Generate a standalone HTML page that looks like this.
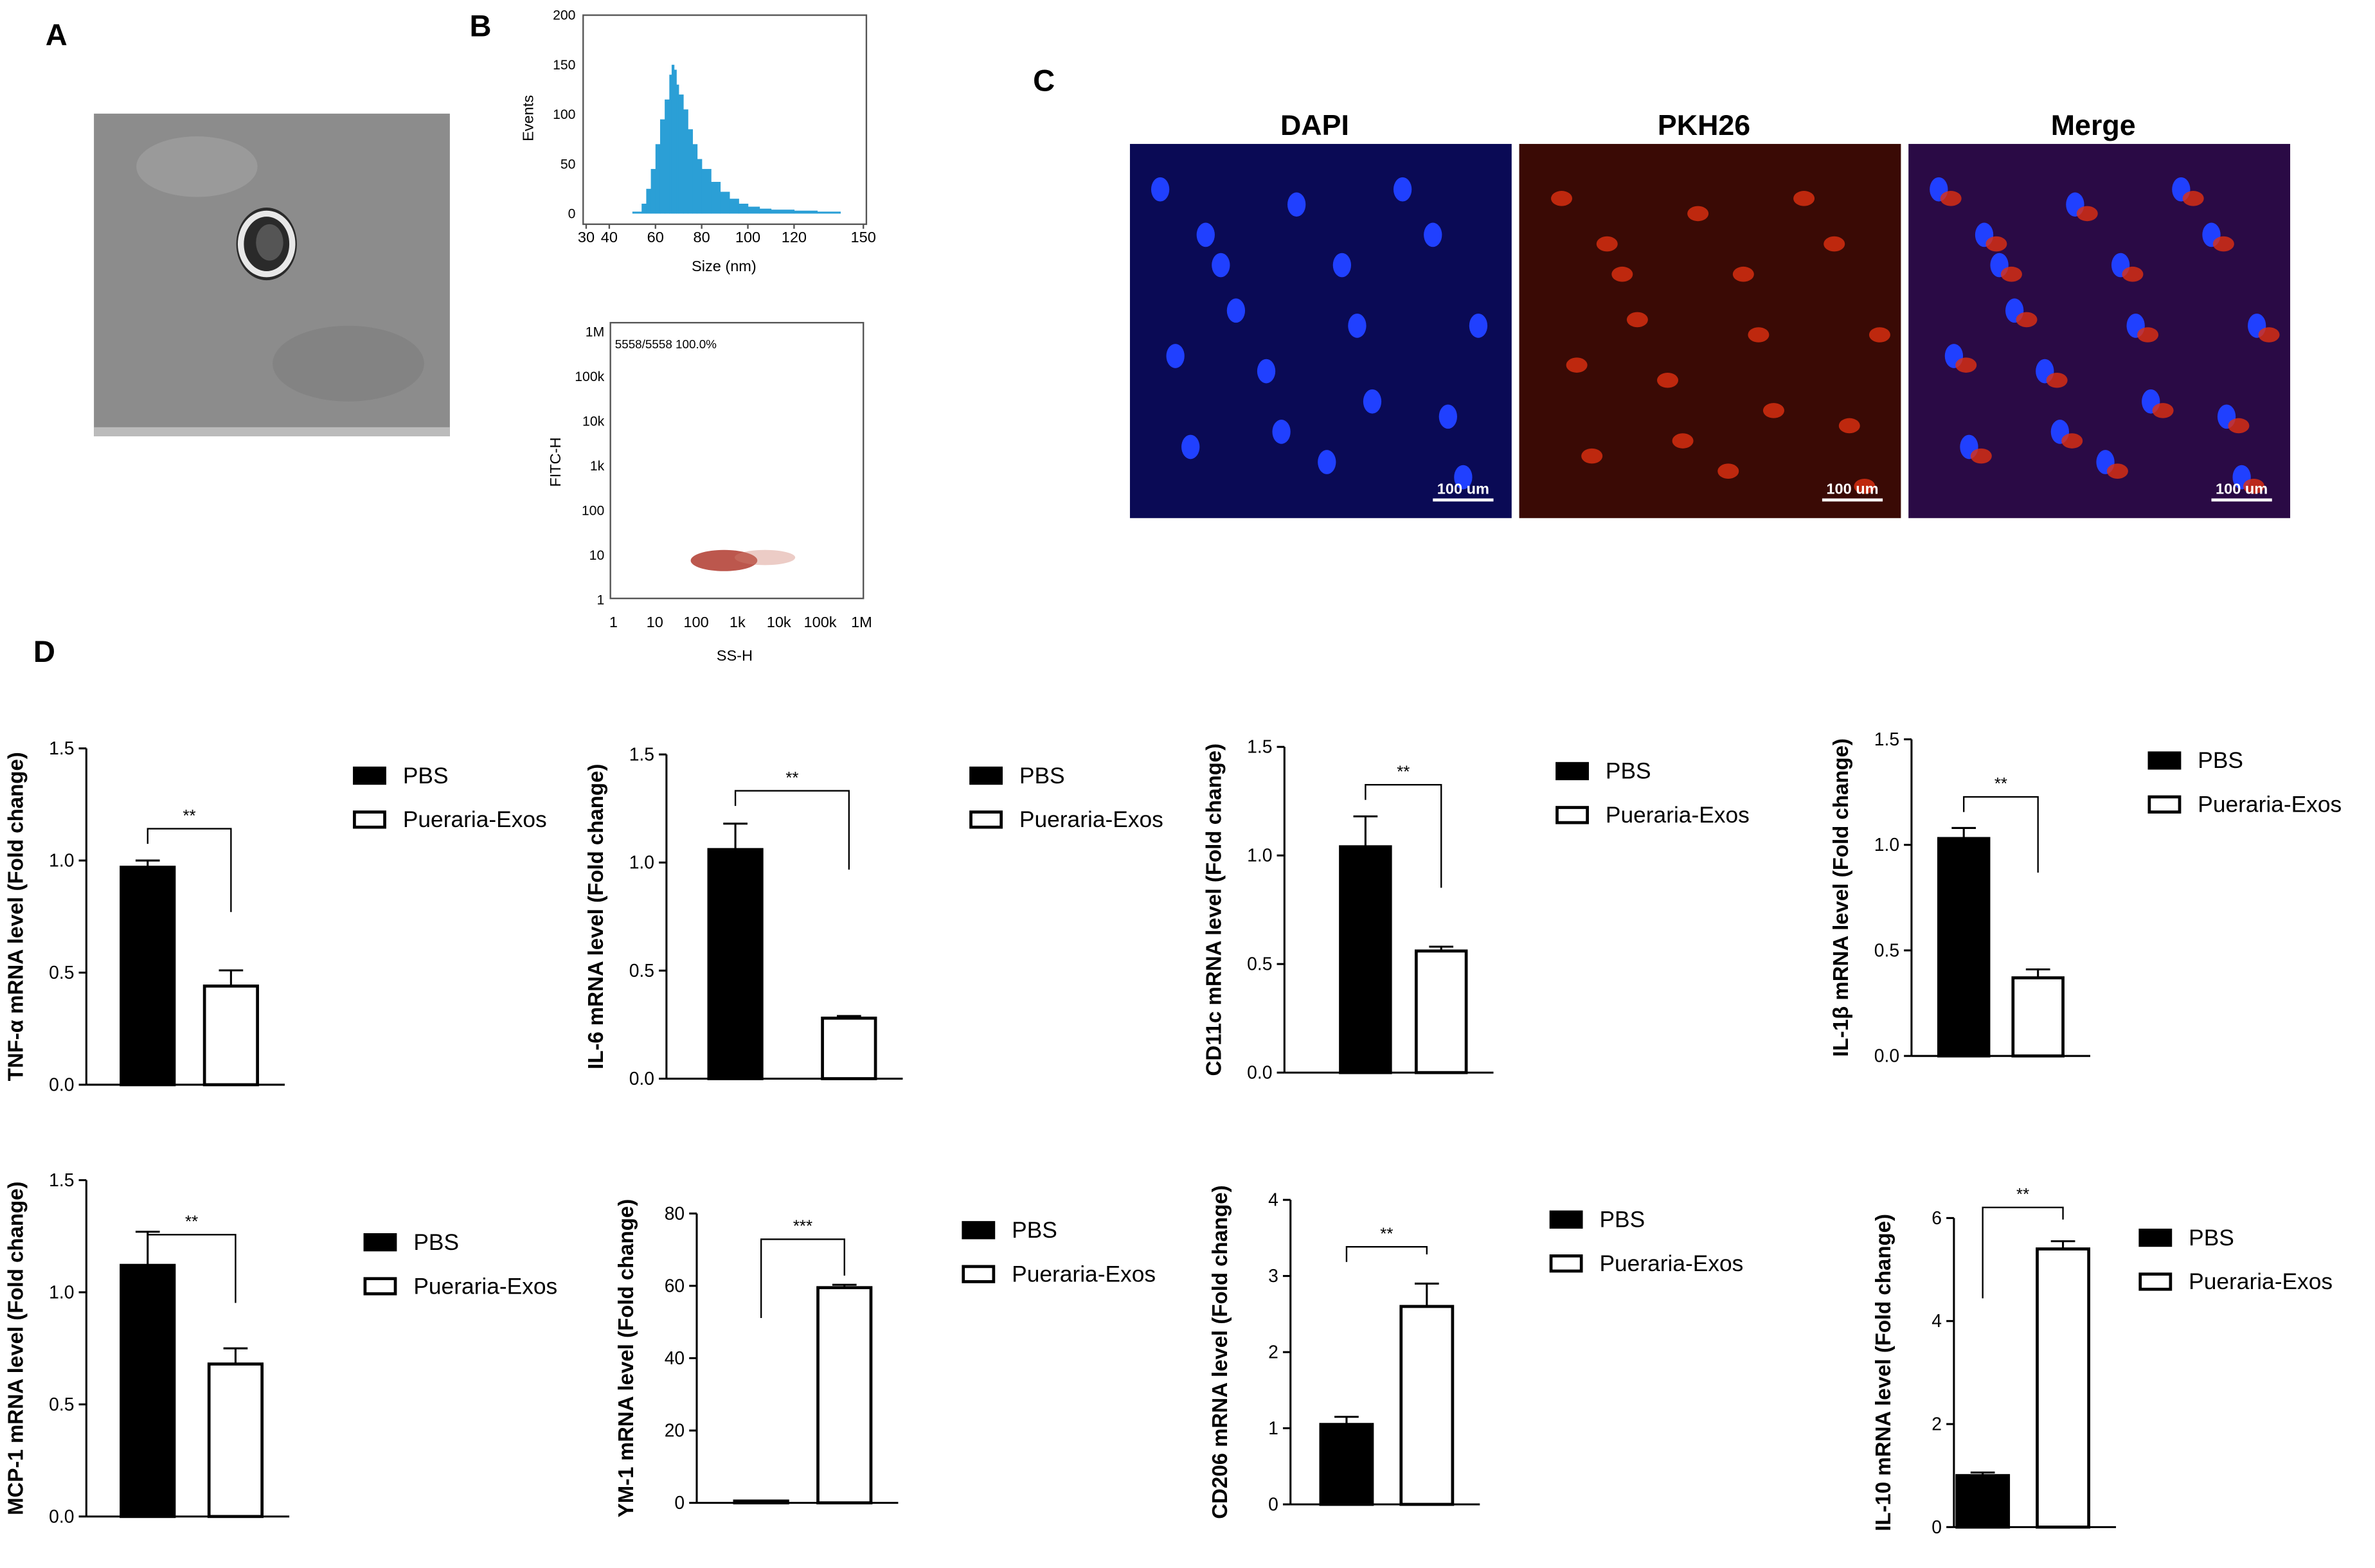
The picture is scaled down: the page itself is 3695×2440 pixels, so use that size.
<!DOCTYPE html>
<html><head><meta charset="utf-8">
<style>
html,body{margin:0;padding:0;background:#fff;}
svg{display:block;font-family:"Liberation Sans",sans-serif;}
</style></head>
<body>
<svg id="fig" width="3695" height="2440" viewBox="0 0 1568 1035" preserveAspectRatio="none" xmlns="http://www.w3.org/2000/svg">
<rect width="1568" height="1035" fill="#fff"/>
<!-- Panel A -->
<text x="30" y="30" font-size="20" font-weight="bold">A</text>
<g>
<rect x="62" y="75" width="235" height="213" fill="#8c8c8c"/>
<ellipse cx="130" cy="110" rx="40" ry="20" fill="#9a9a9a"/>
<ellipse cx="230" cy="240" rx="50" ry="25" fill="#838383"/>
<ellipse cx="176" cy="161" rx="20" ry="24" fill="#2a2a2a"/>
<ellipse cx="176" cy="161" rx="17" ry="20" fill="none" stroke="#e8e8e8" stroke-width="4"/>
<ellipse cx="178" cy="160" rx="9" ry="12" fill="#555"/>
<rect x="62" y="282" width="235" height="6" fill="#bbb"/>
</g>
<!-- Panel B -->
<text x="310" y="24" font-size="20" font-weight="bold">B</text>
<g id="hist"></g>
<g id="scatter"></g>
<!-- Panel C -->
<text x="682" y="60" font-size="20" font-weight="bold">C</text>
<g id="micro"></g>
<!-- Panel D -->
<text x="22" y="437" font-size="20" font-weight="bold">D</text>
<g id="bars"></g>
</svg>
<script>
const NS="http://www.w3.org/2000/svg";
function mk(parent,tag,attrs,text){const e=document.createElementNS(NS,tag);for(const k in attrs)e.setAttribute(k,attrs[k]);if(text!==undefined)e.textContent=text;parent.appendChild(e);return e;}

// ---------- Histogram data ----------
const histSizes=[50,54,56,58,60,62,64,66,67,68,69,70,72,74,76,78,80,84,88,92,96,100,105,110,120,130,140];
const histCounts=[2,10,25,45,70,95,115,140,150,145,130,120,105,85,70,55,45,32,22,15,10,7,5,4,3,2,1];
const histXTicks=[30,40,60,80,100,120,150];
const histYTicks=[0,50,100,150,200];
(function(){
 const g=document.getElementById('hist');
 const x=v=>387+(v-30)/(150-30)*183, y=v=>141-v/200*131;
 mk(g,'rect',{x:385,y:10,width:187,height:138,fill:'none',stroke:'#555','stroke-width':1});
 for(let i=0;i<histSizes.length-1;i++){
  const b=mk(g,'rect',{x:x(histSizes[i]),y:y(histCounts[i]),width:x(histSizes[i+1])-x(histSizes[i])+0.3,height:141-y(histCounts[i]),fill:'#2b9fd6'});
  
  
 }
 histXTicks.forEach(t=>{mk(g,'line',{x1:x(t),x2:x(t),y1:148,y2:151,stroke:'#555'});mk(g,'text',{x:x(t),y:160,'font-size':10,'text-anchor':'middle'},t);});
 histYTicks.forEach(t=>{mk(g,'text',{x:380,y:y(t)+3,'font-size':9,'text-anchor':'end'},t);});
 mk(g,'text',{x:478,y:179,'font-size':10,'text-anchor':'middle'},'Size (nm)');
 mk(g,'text',{x:352,y:78,'font-size':10,'text-anchor':'middle',transform:'rotate(-90 352 78)'},'Events');
})();

// ---------- Scatter ----------
const scatterXTicks=['1','10','100','1k','10k','100k','1M'];
const scatterYTicks=['1','10','100','1k','10k','100k','1M'];
(function(){
 const g=document.getElementById('scatter');
 mk(g,'rect',{x:403,y:213,width:167,height:182,fill:'none',stroke:'#555'});
 scatterXTicks.forEach((t,i)=>{const xx=405+i*27.3;mk(g,'text',{x:xx,y:414,'font-size':10,'text-anchor':'middle'},t);});
 scatterYTicks.forEach((t,i)=>{const yy=396-i*29.5;mk(g,'text',{x:399,y:yy+3,'font-size':9,'text-anchor':'end'},t);});
 mk(g,'text',{x:406,y:230,'font-size':8},'5558/5558  100.0%');
 mk(g,'text',{x:485,y:436,'font-size':10,'text-anchor':'middle'},'SS-H');
 mk(g,'text',{x:370,y:305,'font-size':10,'text-anchor':'middle',transform:'rotate(-90 370 305)'},'FITC-H');
 mk(g,'ellipse',{cx:478,cy:370,rx:22,ry:7,fill:'#b03a2e',opacity:0.85});
 mk(g,'ellipse',{cx:505,cy:368,rx:20,ry:5,fill:'#d08070',opacity:0.4});
})();

// ---------- Microscopy ----------
(function(){
 const g=document.getElementById('micro');
 const panels=[{x:746,t:'DAPI',bg:'#0a0a55'},{x:1003,t:'PKH26',bg:'#3a0a05'},{x:1260,t:'Merge',bg:'#2a0a45'}];
 const cells=[[20,30],[60,80],[110,40],[150,120],[90,150],[200,60],[40,200],[130,210],[210,180],[180,30],[70,110],[230,120],[100,190],[30,140],[160,170],[220,220],[50,60],[140,80]];
 panels.forEach((p,pi)=>{
  mk(g,'rect',{x:p.x,y:95,width:252,height:247,fill:p.bg});
  cells.forEach(c=>{
   if(pi!==1) mk(g,'ellipse',{cx:p.x+c[0],cy:95+c[1],rx:6,ry:8,fill:'#2040ff'});
   if(pi>0) mk(g,'ellipse',{cx:p.x+c[0]+8,cy:95+c[1]+6,rx:7,ry:5,fill:'#e03010',opacity:0.8});
  });
  mk(g,'text',{x:p.x+122,y:89,'font-size':19,'font-weight':'bold','text-anchor':'middle'},p.t);
  mk(g,'line',{x1:p.x+200,x2:p.x+240,y1:330,y2:330,stroke:'#fff','stroke-width':2});
  mk(g,'text',{x:p.x+220,y:326,'font-size':10,'font-weight':'bold',fill:'#fff','text-anchor':'middle'},'100 um');
 });
})();

// ---------- Bar chart data ----------
const chartTitles=['TNF-α mRNA level (Fold change)','IL-6 mRNA level (Fold change)','CD11c mRNA level (Fold change)','IL-1β mRNA level (Fold change)','MCP-1 mRNA level (Fold change)','YM-1 mRNA level (Fold change)','CD206 mRNA level (Fold change)','IL-10 mRNA level (Fold change)'];
const pbsValues=[0.97,1.06,1.04,1.03,1.12,0.5,1.05,1.0];
const pbsErrors=[0.03,0.12,0.14,0.05,0.15,0.1,0.1,0.06];
const exosValues=[0.44,0.28,0.56,0.37,0.68,59.5,2.6,5.4];
const exosErrors=[0.07,0.01,0.02,0.04,0.07,0.8,0.3,0.15];
const sigLabels=['**','**','**','**','**','***','**','**'];
const yTickLabels=[['0.0','0.5','1.0','1.5'],['0.0','0.5','1.0','1.5'],['0.0','0.5','1.0','1.5'],['0.0','0.5','1.0','1.5'],['0.0','0.5','1.0','1.5'],['0','20','40','60','80'],['0','1','2','3','4'],['0','2','4','6']];
const legendLabels=['PBS','Pueraria-Exos'];
// layout (pixel geometry, not data)
const layout=[
 {ax:57,y0:716,y1:494,b1:80,b2:135,bw:35,br:547,ld:10,rd:55,lx:233,ly:512},
 {ax:440,y0:712,y1:498,b1:468,b2:543,bw:35,br:522,ld:10,rd:52,lx:640,ly:512},
 {ax:848,y0:708,y1:493,b1:885,b2:935,bw:33,br:518,ld:10,rd:68,lx:1027,ly:509},
 {ax:1262,y0:697,y1:488,b1:1280,b2:1329,bw:33,br:526,ld:10,rd:50,lx:1418,ly:502},
 {ax:57,y0:1001,y1:779,b1:80,b2:138,bw:35,br:815,ld:10,rd:45,lx:240,ly:820},
 {ax:460,y0:992,y1:801,b1:485,b2:540,bw:35,br:818,ld:52,rd:24,lx:635,ly:812},
 {ax:852,y0:993,y1:792,b1:872,b2:925,bw:34,br:823,ld:10,rd:5,lx:1023,ly:805},
 {ax:1290,y0:1008,y1:804,b1:1292,b2:1345,bw:34,br:797,ld:60,rd:8,lx:1412,ly:817}
];
(function(){
 const root=document.getElementById('bars');
 chartTitles.forEach((title,i)=>{
  const L=layout[i], ticks=yTickLabels[i];
  const ymax=parseFloat(ticks[ticks.length-1]);
  const y=v=>L.y0-v/ymax*(L.y0-L.y1);
  const g=mk(root,'g',{});
  
  
  mk(g,'line',{x1:L.ax,x2:L.ax,y1:L.y0,y2:L.y1,stroke:'#000','stroke-width':1.3});
  const xEnd=L.b2+L.bw+18;
  mk(g,'line',{x1:L.ax,x2:xEnd,y1:L.y0,y2:L.y0,stroke:'#000','stroke-width':1.3});
  ticks.forEach(t=>{const v=parseFloat(t),yy=y(v);
   mk(g,'line',{x1:L.ax-5,x2:L.ax,y1:yy,y2:yy,stroke:'#000','stroke-width':1.3});
   mk(g,'text',{x:L.ax-8,y:yy+4,'font-size':12,'text-anchor':'end'},t);});
  const tx=L.ax-42, ty=(L.y0+L.y1)/2;
  const tt=mk(g,'text',{x:tx,y:ty,'font-size':14,'font-weight':'bold','text-anchor':'middle',transform:'rotate(-90 '+tx+' '+ty+')'},title);
  
  
  // bars
  [[L.b1,pbsValues[i],pbsErrors[i],'#000','pbs'],[L.b2,exosValues[i],exosErrors[i],'#fff','exos']].forEach(b=>{
   const top=y(b[1]), cx=b[0]+L.bw/2, et=y(b[1]+b[2]);
   mk(g,'line',{x1:cx,x2:cx,y1:top,y2:et,stroke:'#000','stroke-width':1.3});
   mk(g,'line',{x1:cx-8,x2:cx+8,y1:et,y2:et,stroke:'#000','stroke-width':1.3});
   const r=mk(g,'rect',{x:b[0],y:top,width:L.bw,height:L.y0-top,fill:b[3],stroke:'#000','stroke-width':2});
   
   
  });
  // significance bracket
  const c1=L.b1+L.bw/2, c2=L.b2+L.bw/2;
  mk(g,'path',{d:`M${c1},${L.br+L.ld}V${L.br}H${c2}V${L.br+L.rd}`,fill:'none',stroke:'#000','stroke-width':1});
  mk(g,'text',{x:(c1+c2)/2,y:L.br-5,'font-size':11,'text-anchor':'middle'},sigLabels[i]);
  // legend
  legendLabels.forEach((lab,j)=>{
   const ly=L.ly+j*29;
   const s=mk(g,'rect',{x:L.lx+1,y:ly-5,width:20,height:10,fill:j?'#fff':'#000',stroke:'#000','stroke-width':2});
   
   
   mk(g,'text',{x:L.lx+33,y:ly+5,'font-size':15},lab);
  });
 });
})();
</script>
</body></html>
